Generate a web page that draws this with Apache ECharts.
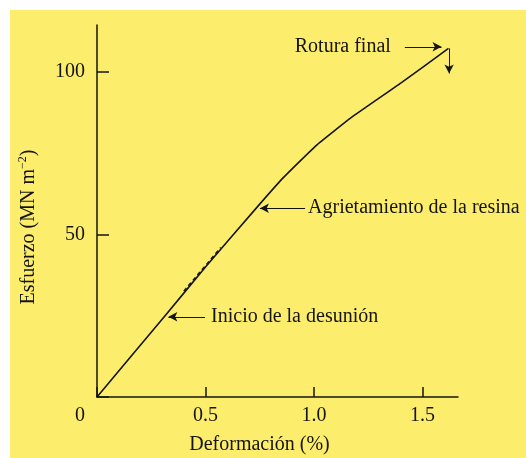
<!DOCTYPE html>
<html lang="es">

<head>
    <meta charset="UTF-8">
    <title>Esfuerzo - Deformación</title>
    <script src="https://cdn.jsdelivr.net/npm/echarts@6/dist/echarts.min.js"></script>
    <style>
        html, body { margin: 0; padding: 0; background: #fff; }
        #main { position: absolute; left: 10px; top: 10px; width: 516px; height: 448px; }
    </style>
</head>

<body>
    <div id="main"></div>
    <script>
        // curva esfuerzo-deformación
        var strain = [0, 0.31, 0.50, 0.74, 0.86, 1.01, 1.17, 1.40, 1.62];
        var stress = [0, 24.7, 40, 58.6, 67.6, 77.4, 85.9, 96.6, 107.3];

        // tramo discontinuo junto a la recta
        var dashStrain = [0.40, 0.57];
        var dashStress = [32.6, 46.0];

        // flechas de anotación: [x inicio, x fin, y]
        var notes = ['Rotura final', 'Agrietamiento de la resina', 'Inicio de la desunión'];
        var noteArrows = [[1.419, 1.588, 107.8], [0.959, 0.751, 58.1], [0.498, 0.329, 24.7]];
        var noteGap = [14, 3, 6];
        // flecha vertical en la rotura: [x, y inicio, y fin]
        var dropArrow = [1.623, 107.3, 99.6];

        var xTicks = [0, 0.5, 1.0, 1.5];
        var yTicks = [0, 50, 100];

        var font = 'Liberation Serif';
        var fs = 20;
        var ink = '#141414';

        var curve = strain.map(function (s, i) { return [s, stress[i]]; });
        var dashed = dashStrain.map(function (s, i) { return [s, dashStress[i]]; });

        var lines = noteArrows.map(function (a, i) {
            return [{
                coord: [a[0], a[2]],
                label: { formatter: notes[i], position: 'start', distance: noteGap[i] }
            }, {
                coord: [a[1], a[2]]
            }];
        });
        lines.push([{ coord: [dropArrow[0], dropArrow[1]], label: { show: false } },
                    { coord: [dropArrow[0], dropArrow[2]] }]);

        var chart = echarts.init(document.getElementById('main'));
        var option = {
            backgroundColor: '#fded6c',
            animation: false,
            grid: { left: 87, top: 15, right: 68, bottom: 61, containLabel: false, outerBoundsMode: 'none' },
            xAxis: {
                type: 'value',
                min: 0,
                max: 1.664,
                interval: 0.5,
                name: 'Deformación (%)',
                nameLocation: 'middle',
                nameGap: 38,
                nameTextStyle: { fontFamily: font, fontSize: fs, color: ink, padding: [0, 36, 0, 0] },
                axisLine: { lineStyle: { color: ink, width: 1.5 } },
                axisTick: { inside: true, length: 10, lineStyle: { color: ink, width: 1.5 } },
                splitLine: { show: false },
                axisLabel: {
                    showMaxLabel: false,
                    margin: 9,
                    fontFamily: font,
                    fontSize: fs,
                    color: ink,
                    formatter: function (v) {
                        if (v === 0) return '{o|0}';
                        return xTicks.indexOf(v) >= 0 ? v.toFixed(1) : '';
                    },
                    rich: { o: { fontFamily: font, fontSize: fs, color: ink, padding: [0, 34, 0, 0] } }
                }
            },
            yAxis: {
                type: 'value',
                min: 0,
                max: 114.5,
                interval: 50,
                name: '{t|Esfuerzo (MN m}{s|−2}{t|)}',
                nameLocation: 'middle',
                nameGap: 57,
                nameTextStyle: {
                    padding: [0, 32, 0, 0],
                    rich: {
                        t: { fontFamily: font, fontSize: fs, color: ink },
                        s: { fontFamily: font, fontSize: 12, color: ink, padding: [0, 0, 11, 0] }
                    }
                },
                axisLine: { lineStyle: { color: ink, width: 1.5 } },
                axisTick: { inside: true, length: 12, lineStyle: { color: ink, width: 1.5 } },
                splitLine: { show: false },
                axisLabel: {
                    showMaxLabel: false,
                    margin: 12,
                    fontFamily: font,
                    fontSize: fs,
                    color: ink,
                    formatter: function (v) {
                        return (v === 0 || yTicks.indexOf(v) < 0) ? '' : String(v);
                    }
                }
            },
            series: [{
                type: 'line',
                data: curve,
                smooth: 0.12,
                symbol: 'none',
                lineStyle: { color: ink, width: 1.6 },
                markLine: {
                    silent: true,
                    symbol: ['none', 'arrow'],
                    symbolSize: [7, 9],
                    lineStyle: { color: ink, width: 1, type: 'solid' },
                    label: { fontFamily: font, fontSize: fs, color: ink },
                    emphasis: { disabled: true },
                    data: lines
                }
            }, {
                type: 'line',
                data: dashed,
                symbol: 'none',
                lineStyle: { color: ink, width: 1.4, type: [4, 3] }
            }]
        };
        chart.setOption(option);
    </script>
</body>

</html>
